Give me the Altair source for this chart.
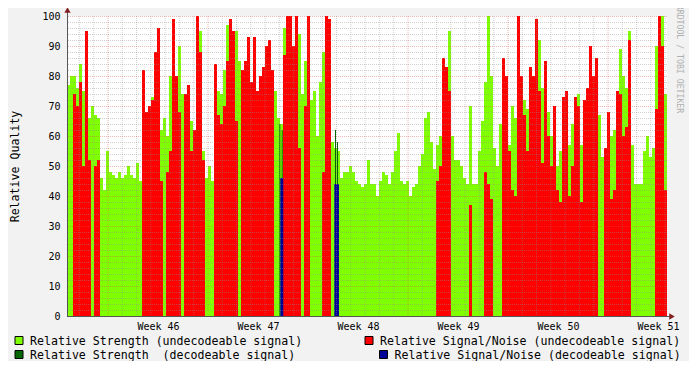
import altair as alt
import pandas as pd

# ---- data (one value per 3-px column, 200 columns) ----
STRENGTH_UNDEC = [
    77, 80, 80, 76, 84, 75, 87, 66, 70, 67,
    66, 46, 42, 55, 48, 47, 46, 48, 46, 47,
    50, 47, 46, 51, 45, 0, 63, 63, 73, 0,
    0, 62, 66, 60, 80, 0, 0, 90, 74, 71,
    70, 65, 60, 0, 95, 55, 46, 50, 45, 0,
    75, 74, 82, 97, 96, 80, 95, 85, 64, 0,
    0, 72, 0, 0, 72, 60, 0, 0, 75, 75,
    66, 64, 96, 0, 96, 0, 0, 94, 74, 85,
    100, 72, 75, 60, 78, 88, 85, 95, 58, 56,
    55, 46, 48, 48, 50, 48, 45, 44, 43, 44,
    52, 44, 44, 40, 45, 48, 47, 44, 48, 55,
    61, 45, 44, 45, 40, 43, 44, 50, 54, 66,
    68, 58, 49, 57, 60, 0, 0, 95, 60, 52,
    52, 50, 46, 44, 70, 44, 44, 55, 65, 78,
    100, 80, 56, 50, 64, 0, 0, 57, 70, 66,
    0, 0, 72, 69, 0, 0, 0, 92, 76, 0,
    68, 60, 60, 50, 55, 0, 57, 57, 64, 0,
    74, 57, 64, 71, 0, 0, 0, 67, 53, 0,
    64, 60, 62, 70, 89, 80, 76, 95, 57, 44,
    44, 44, 55, 60, 53, 56, 90, 100, 100, 74,
]
SN_UNDEC = [
    0, 0, 74, 70, 78, 50, 95, 52, 0, 50,
    52, 0, 0, 0, 0, 0, 0, 0, 0, 0,
    0, 0, 0, 0, 0, 82, 68, 70, 72, 88,
    96, 45, 0, 48, 55, 99, 80, 68, 0, 74,
    77, 55, 62, 100, 88, 52, 0, 0, 0, 84,
    67, 64, 70, 85, 99, 95, 65, 0, 82, 85,
    93, 78, 93, 75, 80, 83, 90, 92, 82, 0,
    0, 0, 87, 100, 100, 90, 100, 56, 0, 70,
    100, 0, 0, 0, 0, 48, 100, 99, 0, 0,
    0, 0, 0, 0, 0, 0, 0, 0, 0, 0,
    0, 0, 0, 0, 0, 0, 0, 0, 0, 0,
    0, 0, 0, 0, 0, 0, 0, 0, 0, 0,
    0, 0, 0, 45, 50, 86, 83, 75, 0, 0,
    0, 0, 0, 0, 37, 0, 0, 0, 0, 48,
    44, 39, 0, 0, 0, 86, 80, 55, 42, 40,
    100, 80, 67, 55, 83, 80, 99, 75, 51, 85,
    60, 50, 70, 42, 38, 73, 75, 40, 50, 73,
    70, 38, 72, 76, 90, 80, 86, 0, 0, 56,
    68, 39, 42, 75, 74, 60, 63, 92, 0, 0,
    0, 0, 0, 0, 0, 0, 69, 100, 90, 42,
]
# decodeable samples (UTC)
DEC_STRENGTH_START = ["2008-11-21 23:47", "2008-11-22 03:49", "2008-11-25 21:21", "2008-11-26 00:43"]
DEC_STRENGTH_END = ["2008-11-22 01:27", "2008-11-22 05:30", "2008-11-25 23:02", "2008-11-26 02:24"]
DEC_STRENGTH = [64, 62, 62, 58]
DEC_SN_START = ["2008-11-22 01:27", "2008-11-25 20:11"]
DEC_SN_END = ["2008-11-22 06:30", "2008-11-26 04:05"]
DEC_SN = [46, 44]

LEGEND_LABELS = [
    "Relative Strength (undecodeable signal)",
    "Relative Signal/Noise (undecodeable signal)",
    "Relative Strength\u00a0 (decodeable signal)",
    "Relative Signal/Noise (decodeable signal)",
]
COLORS = ["#80FF00", "#FF0000", "#006600", "#000099"]
Y_TITLE = "Relative Quality"
WATERMARK = "RRDTOOL / TOBI OETIKER"

FONT = "DejaVu Sans Mono"


def ms(ts):
    t = pd.Timestamp(ts)
    if t.tzinfo is None:
        t = t.tz_localize("UTC")
    return int(t.value // 10**6)


t_start = pd.Timestamp("2008-11-07 03:07:12", tz="UTC")
t_end = t_start + pd.Timedelta(days=42)
n = len(STRENGTH_UNDEC)
step = (t_end - t_start) / 200
starts = [t_start + i * step for i in range(n)]

df = pd.DataFrame({
    "t0": [ms(s) for s in starts],
    "t1": [ms(s + step) for s in starts],
    "strength": STRENGTH_UNDEC,
    "sn": SN_UNDEC,
})
df_ds = pd.DataFrame({"t0": [ms(s) for s in DEC_STRENGTH_START],
                      "t1": [ms(s) for s in DEC_STRENGTH_END], "v": DEC_STRENGTH})
df_dn = pd.DataFrame({"t0": [ms(s) for s in DEC_SN_START],
                      "t1": [ms(s) for s in DEC_SN_END], "v": DEC_SN})

x_scale = alt.Scale(type="utc", domain=[ms(t_start), ms(t_end)])
y_scale = alt.Scale(domain=[0, 100], nice=False)

days = pd.date_range("2008-11-08", "2008-12-19", freq="D", tz="UTC")
minor_days = [ms(d) for d in days if d.dayofweek != 0]
week_days = [ms(d) for d in days if d.dayofweek == 0]
week_mid = [ms(d + pd.Timedelta(hours=84)) for d in days if d.dayofweek == 0]

x_axis = alt.Axis(values=week_mid, labelExpr="'Week ' + utcFormat(datum.value, '%V')",
                  grid=False, domain=False, ticks=False, labelFont=FONT, labelFontSize=10,
                  labelColor="black", labelPadding=5, labelFlush=False, title=None)
y_axis = alt.Axis(values=list(range(0, 101, 10)), grid=False, domain=False, ticks=False,
                  labelFont=FONT, labelFontSize=10, labelColor="black", labelPadding=7,
                  title=Y_TITLE, titleFont=FONT, titleFontSize=11.6, titleFontWeight="normal",
                  titleColor="black", titleX=-52, titleY=150, titleAngle=270,
                  titleAlign="center", titleBaseline="middle")


def X(field):
    return alt.X(field, scale=x_scale, axis=x_axis, title=None)


def Y(field):
    return alt.Y(field, scale=y_scale, axis=y_axis, title=Y_TITLE)


green = alt.Chart(df).mark_bar(color=COLORS[0]).encode(
    x=X("t0:T"), x2="t1:T", y=Y("strength:Q"), y2=alt.datum(0))
red = alt.Chart(df).mark_bar(color=COLORS[1]).encode(
    x=X("t0:T"), x2="t1:T", y=Y("sn:Q"), y2=alt.datum(0))
dgreen = alt.Chart(df_ds).mark_bar(color=COLORS[2]).encode(
    x=X("t0:T"), x2="t1:T", y=Y("v:Q"), y2=alt.datum(0))
blue = alt.Chart(df_dn).mark_bar(color=COLORS[3]).encode(
    x=X("t0:T"), x2="t1:T", y=Y("v:Q"), y2=alt.datum(0))

minor_v = alt.Chart(pd.DataFrame({"t": minor_days})).mark_rule(
    color="#8f8f8f", strokeWidth=0.6, strokeDash=[1, 1], opacity=0.7).encode(x=X("t:T"))
major_v = alt.Chart(pd.DataFrame({"t": week_days})).mark_rule(
    color="#DE4F4F", strokeWidth=0.7, strokeDash=[1, 1], opacity=0.6).encode(x=X("t:T"))
minor_h = alt.Chart(pd.DataFrame({"v": [v for v in range(2, 100, 2) if v % 10]})).mark_rule(
    color="#8f8f8f", strokeWidth=0.6, strokeDash=[1, 1], opacity=0.7, yOffset=0.5).encode(
    y=Y("v:Q"))
major_h = alt.Chart(pd.DataFrame({"v": list(range(10, 101, 10))})).mark_rule(
    color="#DE4F4F", strokeWidth=0.7, strokeDash=[1, 1], opacity=0.6, yOffset=0.5).encode(
    y=Y("v:Q"))

one = pd.DataFrame({"a": [0]})
y_line = alt.Chart(one).mark_rule(color="#555555", strokeWidth=1).encode(
    x=alt.value(0.5), y=alt.value(-7), y2=alt.value(300))
x_line = alt.Chart(one).mark_rule(color="#555555", strokeWidth=1).encode(
    x=alt.value(0), x2=alt.value(604), y=alt.value(300.5))
arrow_up = alt.Chart(one).mark_point(shape="triangle-up", filled=True, size=40,
                                     color="#801F1F", opacity=1).encode(
    x=alt.value(0.5), y=alt.value(-6))
arrow_right = alt.Chart(one).mark_point(shape="triangle-right", filled=True, size=40,
                                        color="#801F1F", opacity=1).encode(
    x=alt.value(605), y=alt.value(300.5))

legend_layers = []
sq_pos = [(-48, 324.5), (302, 324.5), (-48, 338.5), (316.5, 338.5)]
tx_pos = [(-37, 328.5), (313, 328.5), (-37, 342.5), (327.5, 342.5)]
for lbl, col, (sx, sy), (tx, ty) in zip(LEGEND_LABELS, COLORS, sq_pos, tx_pos):
    d = pd.DataFrame({"label": [lbl]})
    legend_layers.append(alt.Chart(d).mark_square(size=64, color=col, stroke="black",
                                                  strokeWidth=1, opacity=1).encode(
        x=alt.value(sx), y=alt.value(sy)))
    legend_layers.append(alt.Chart(d).mark_text(font=FONT, fontSize=11.6, color="black",
                                                align="left", baseline="alphabetic").encode(
        x=alt.value(tx), y=alt.value(ty), text="label:N"))

watermark = alt.Chart(pd.DataFrame({"label": [WATERMARK]})).mark_text(
    font=FONT, fontSize=8.2, color="#b0b0b0", angle=90, align="center",
    baseline="middle").encode(x=alt.value(612), y=alt.value(43), text="label:N")

chart = alt.layer(
    green, red, dgreen, blue, minor_v, minor_h, major_v, major_h,
    y_line, x_line, arrow_up, arrow_right, watermark, *legend_layers
).properties(
    width=600, height=300, background="#F2F2F2",
    padding={"left": 59, "top": 8, "right": 22, "bottom": 45},
    autosize=alt.AutoSizeParams(type="none"),
).configure_view(fill="white", strokeWidth=0)

chart.save("out.html", embed_options={"renderer": "svg", "actions": False})
